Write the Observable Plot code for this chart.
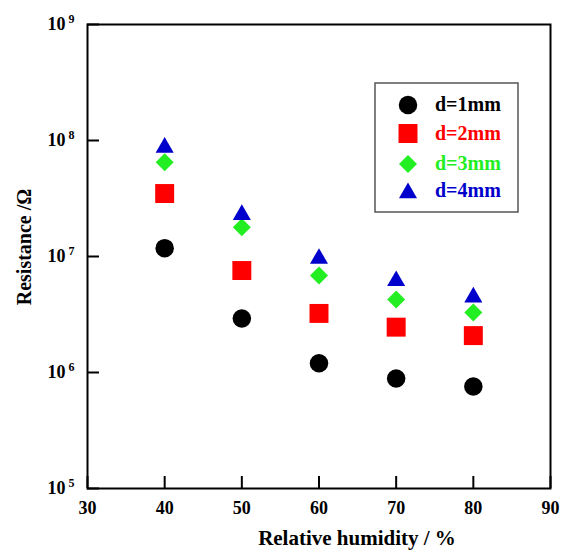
<!DOCTYPE html>
<html><head><meta charset="utf-8">
<script src="https://cdn.jsdelivr.net/npm/d3@7"></script>
<script src="https://cdn.jsdelivr.net/npm/@observablehq/plot@0.6"></script>
<style>body{margin:0;background:#fff;}</style>
</head><body><div id="chart"></div>
<script>
const humidity = [40, 50, 60, 70, 80];
const seriesNames = ["d=1mm", "d=2mm", "d=3mm", "d=4mm"];
const r1 = [1.18e7, 2.92e6, 1.2e6, 8.87e5, 7.57e5];
const r2 = [3.49e7, 7.57e6, 3.23e6, 2.46e6, 2.08e6];
const r3 = [6.5e7, 1.79e7, 6.86e6, 4.26e6, 3.29e6];
const r4 = [8.7e7, 2.29e7, 9.6e6, 6.17e6, 4.46e6];
const xTicks = [30, 40, 50, 60, 70, 80, 90];
const yTicks = [1e5, 1e6, 1e7, 1e8, 1e9];
const xTitle = "Relative humidity / %";
const yTitle = "Resistance /Ω";

const colors = ["#000000", "#ff0000", "#22ee22", "#0000cc"];
const symbols = ["circle", "square", "diamond2", "triangle"];
const symR = {circle: 9.25, square: 10.7, diamond2: 8.1, triangle: 6.7};

const rows = [];
[r1, r2, r3, r4].forEach((arr, i) => arr.forEach((v, j) => rows.push({h: humidity[j], r: v, s: seriesNames[i]})));

const font = "'Liberation Serif', 'Times New Roman', serif";

const chart = Plot.plot({
  width: 561, height: 551,
  marginLeft: 87, marginRight: 11, marginTop: 24, marginBottom: 63,
  style: {fontFamily: font, fontWeight: "bold", fontSize: "18px", color: "#000", background: "#fff", overflow: "visible"},
  x: {domain: [30, 90], label: null},
  y: {type: "log", domain: [1e5, 1e9], label: null},
  marks: [
    Plot.axisX({ticks: xTicks, tickSize: -12, tickPadding: 25, strokeWidth: 2, tickFormat: d => String(d), fontSize: 18, label: null}),
    Plot.axisY({ticks: yTicks, tickSize: -12, tickPadding: 25, strokeWidth: 2, tickFormat: d => String(Math.round(Math.log10(d))), fontSize: 18, label: null}),
    Plot.frame({stroke: "#000", strokeWidth: 2}),
    ...seriesNames.map((s, i) => Plot.dot(rows.filter(d => d.s === s), {
      x: "h", y: "r", symbol: () => symbols[i], fill: colors[i], stroke: "none", r: symR[symbols[i]]
    }))
  ]
});
document.getElementById("chart").appendChild(chart);

const svg = d3.select(chart);
// superscript exponents on y tick labels
svg.selectAll('g[aria-label="y-axis tick label"] text').each(function() {
  const t = d3.select(this);
  const e = t.text();
  t.text("10");
  t.append("tspan").attr("dx", 3).attr("dy", "-7").style("font-size", "12px").text(e);
});

// axis titles
svg.append("text").attr("x", 357).attr("y", 545).attr("text-anchor", "middle")
  .style("font-family", font).style("font-weight", "bold").style("font-size", "21px").attr("fill", "#000").text(xTitle);
svg.append("text").attr("transform", "translate(31,247) rotate(-90)").attr("text-anchor", "middle")
  .style("font-family", font).style("font-weight", "bold").style("font-size", "20px").attr("fill", "#000").text(yTitle);

// legend
const lg = svg.append("g");
lg.append("rect").attr("x", 375).attr("y", 83).attr("width", 143).attr("height", 129)
  .attr("fill", "#fff").attr("stroke", "#555").attr("stroke-width", 1.5);
const baselines = [111, 140, 170, 197];
const symCenters = [105, 133.5, 164, 193];
const d3sym = {circle: d3.symbolCircle, square: d3.symbolSquare, diamond2: d3.symbolDiamond2, triangle: d3.symbolTriangle};
seriesNames.forEach((s, i) => {
  lg.append("path").attr("transform", `translate(408,${symCenters[i]})`)
    .attr("d", d3.symbol(d3sym[symbols[i]], Math.PI * symR[symbols[i]] ** 2)())
    .attr("fill", colors[i]);
  lg.append("text").attr("x", 435).attr("y", baselines[i]).attr("text-anchor", "start")
    .style("font-family", font).style("font-weight", "bold").style("font-size", "20px")
    .attr("fill", colors[i]).text(s);
});
</script>
</body></html>
